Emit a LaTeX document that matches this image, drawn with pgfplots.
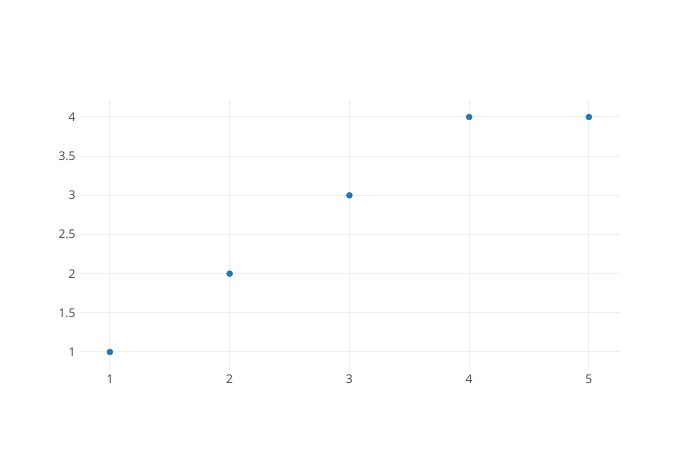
\documentclass[border=0pt]{standalone}
\usepackage{pgfplots}
\pgfplotsset{compat=1.18}
\usepackage{fontspec}
\setmainfont{Open Sans}
\definecolor{plotblue}{HTML}{1F77B4}
\definecolor{gridc}{HTML}{EEEEEE}
\definecolor{tickc}{HTML}{444444}
\begin{document}
\begin{tikzpicture}[x=1pt,y=1pt]
\fill[white] (0,0) rectangle (700,450);
\useasboundingbox (0,0) rectangle (700,450);
\begin{axis}[
  at={(80pt,80pt)}, anchor=south west,
  scale only axis, width=540pt, height=270pt,
  xmin=0.75, xmax=5.26, ymin=0.77, ymax=4.217,
  axis line style={draw=none},
  tick style={draw=none},
  grid=major,
  major grid style={draw=gridc, line width=1pt},
  xtick={1,2,3,4,5},
  ytick={1,1.5,2,2.5,3,3.5,4},
  yticklabels={1,1.5,2,2.5,3,3.5,4},
  ticklabel style={font=\fontsize{12}{14}\selectfont, text=tickc},
  xticklabel style={yshift=-1pt},
  yticklabel style={xshift=-1pt},
  /pgf/number format/assume math mode=true,
]
\addplot[only marks, mark=*, mark size=3pt, color=plotblue] coordinates {
  (1,1) (2,2) (3,3) (4,4) (5,4)
};
\end{axis}
\end{tikzpicture}
\end{document}
